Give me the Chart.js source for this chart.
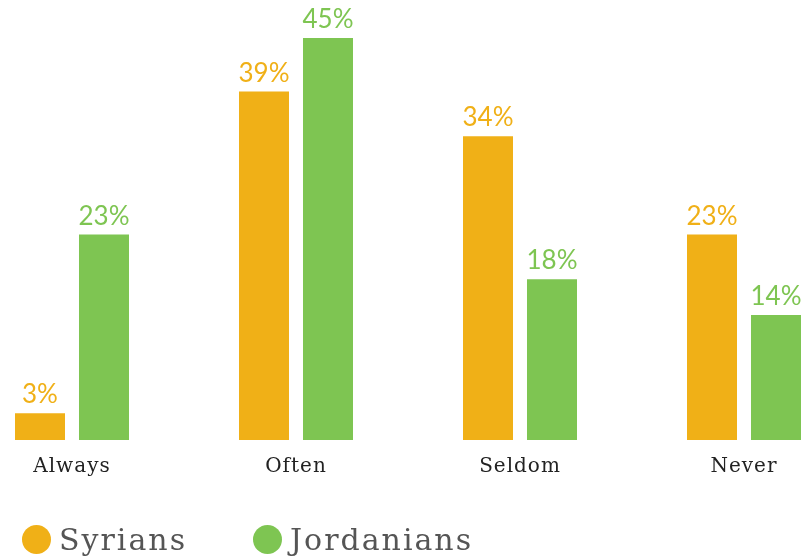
<!DOCTYPE html>
<html>
<head>
<meta charset="utf-8">
<script src="https://cdn.jsdelivr.net/npm/chart.js@4/dist/chart.umd.min.js"></script>
<style>
    body { margin: 0; background: #fff; }
    #wrap { position: relative; width: 801px; height: 557px; }
    #legend { position: absolute; left: 22px; top: 522px; display: flex; font-family: "DejaVu Serif", serif; font-size: 30px; letter-spacing: 2px; color: #555; }
    .item { display: flex; align-items: center; margin-right: 66px; }
    .dot { width: 29px; height: 29px; border-radius: 50%; margin-right: 8px; }
</style>
</head>
<body>
<div id="wrap">
    <canvas id="freqChart" width="801" height="557"></canvas>
    <div id="legend"></div>
</div>
<script>
const categories = ['Always', 'Often', 'Seldom', 'Never'];
const seriesNames = ['Syrians', 'Jordanians'];
const seriesColors = ['#F0B017', '#7EC552'];
const syrians = [3, 39, 34, 23];
const jordanians = [23, 45, 18, 14];

// wider spacing for the axis labels
const spacing = {
    id: 'spacing',
    beforeDraw(chart) { chart.ctx.letterSpacing = '1px'; }
};

// percentage labels above each bar, in the bar's colour
const valueLabels = {
    id: 'valueLabels',
    afterDatasetsDraw(chart) {
        const ctx = chart.ctx;
        ctx.save();
        ctx.letterSpacing = '0px';
        ctx.font = '400 26px Lato';
        ctx.textAlign = 'center';
        ctx.textBaseline = 'alphabetic';
        chart.data.datasets.forEach((ds, i) => {
            chart.getDatasetMeta(i).data.forEach((bar, j) => {
                ctx.fillStyle = ds.backgroundColor;
                ctx.fillText(ds.data[j] + '%', bar.x, bar.y - 10);
            });
        });
        ctx.restore();
    }
};

new Chart('freqChart', {
    type: 'bar',
    data: {
        labels: categories,
        datasets: [
            { label: seriesNames[0], data: syrians, backgroundColor: seriesColors[0] },
            { label: seriesNames[1], data: jordanians, backgroundColor: seriesColors[1] }
        ]
    },
    options: {
        responsive: false,
        animation: false,
        categoryPercentage: 0.5714,
        barPercentage: 0.78125,
        layout: { padding: { left: 72, right: 57, top: 38, bottom: 57 } },
        datasets: { bar: { clip: false } },
        scales: {
            x: {
                offset: false,
                grid: { display: false },
                border: { display: false },
                ticks: { color: '#222', font: { family: 'DejaVu Serif', size: 20 }, padding: 7 },
                afterFit(scale) { scale.height = 60; }
            },
            y: { display: false, min: 0, max: 45 }
        },
        plugins: {
            legend: { display: false },
            tooltip: { enabled: false }
        }
    },
    plugins: [spacing, valueLabels]
});

// legend built from the series arrays
const legend = document.getElementById('legend');
seriesNames.forEach((name, i) => {
    const item = document.createElement('div');
    item.className = 'item';
    item.innerHTML = '<span class="dot" style="background:' + seriesColors[i] + '"></span>' + name;
    legend.appendChild(item);
});
</script>
</body>
</html>
